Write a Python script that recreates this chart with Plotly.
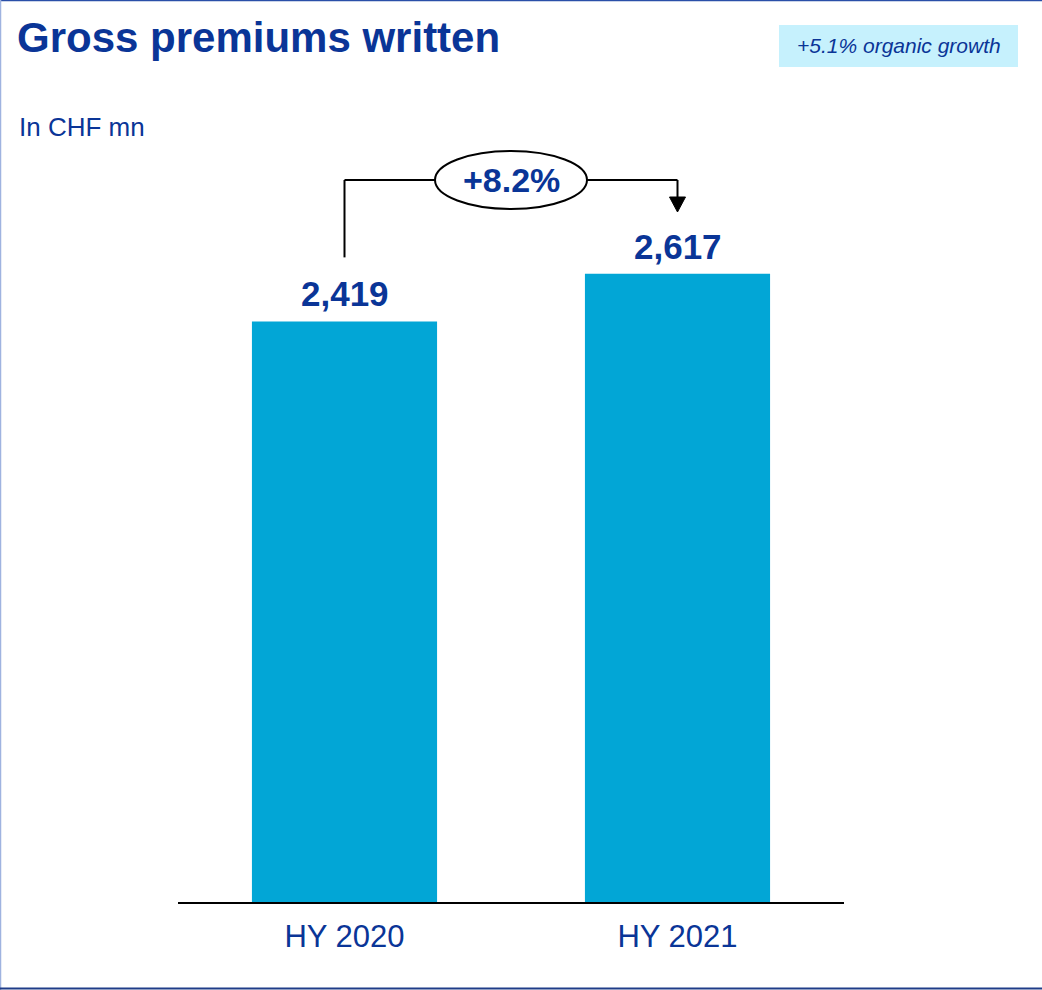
import plotly.graph_objects as go

# Data
categories = ["HY 2020", "HY 2021"]
premiums = [2419, 2617]
growth_label = "+8.2%"
organic_label = "+5.1% organic growth"
title_text = "Gross premiums written"
unit_text = "In CHF mn"

W, H = 1042, 990
BLUE_TEXT = "#0a3597"
BAR = "#02a6d6"
FONT = "Liberation Sans, Arial, sans-serif"

# plot area in pixels
px_left, px_right, px_top, px_bottom = 178, 844, 150, 902
y_max = 3133


def px2paper_x(px):
    return px / W


def px2paper_y(py):
    return 1 - py / H


fig = go.Figure()
fig.add_trace(go.Bar(
    x=[0, 1], y=premiums, marker=dict(color=BAR, line=dict(width=0)),
    width=0.556, hoverinfo="skip",
))

shapes = []
annotations = []

# value labels above the bars
for i, v in enumerate(premiums):
    annotations.append(dict(
        x=i, y=v, xref="x", yref="y", text=f"<b>{v:,}</b>",
        showarrow=False, yanchor="bottom", yshift=6,
        font=dict(size=35, color=BLUE_TEXT, family=FONT),
    ))

# growth bracket from first to second bar
k = (px_bottom - px_top) / y_max  # px per unit
top_y = (px_bottom - 180) / k
start_y = premiums[0] + 64 / k
line = dict(color="black", width=2)
shapes.append(dict(type="line", xref="x", yref="y", x0=0, x1=0, y0=start_y, y1=top_y, line=line))
shapes.append(dict(type="line", xref="x", yref="y", x0=0, x1=1, y0=top_y, y1=top_y, line=line))
tri_top = top_y - 17 / k
tip = top_y - 32 / k
shapes.append(dict(type="line", xref="x", yref="y", x0=1, x1=1, y0=top_y, y1=tri_top, line=line))
dx = 8 / 333
shapes.append(dict(type="path", xref="x", yref="y",
                   path=f"M {1-dx},{tri_top} L {1+dx},{tri_top} L 1,{tip} Z",
                   fillcolor="black", line=dict(color="black", width=1)))
ex = 76 / 333
ey = 29 / k
shapes.append(dict(type="circle", xref="x", yref="y", x0=0.5 - ex, x1=0.5 + ex,
                   y0=top_y - ey, y1=top_y + ey, fillcolor="white", line=line))
annotations.append(dict(
    x=0.5, y=top_y, xref="x", yref="y", text=f"<b>{growth_label}</b>",
    showarrow=False, yanchor="middle", xanchor="center",
    font=dict(size=34, color=BLUE_TEXT, family=FONT),
))

# title, unit, organic growth box
annotations.append(dict(
    x=px2paper_x(15), y=px2paper_y(37), xref="paper", yref="paper",
    text=f"<b>{title_text}</b>", showarrow=False, xanchor="left", yanchor="middle",
    font=dict(size=42, color=BLUE_TEXT, family=FONT),
))
annotations.append(dict(
    x=px2paper_x(17), y=px2paper_y(127), xref="paper", yref="paper",
    text=unit_text, showarrow=False, xanchor="left", yanchor="middle",
    font=dict(size=26, color=BLUE_TEXT, family=FONT),
))
shapes.append(dict(type="rect", xref="paper", yref="paper",
                   x0=px2paper_x(779), x1=px2paper_x(1018),
                   y0=px2paper_y(67), y1=px2paper_y(25),
                   fillcolor="#c6f1fd", line=dict(width=0), layer="below"))
annotations.append(dict(
    x=px2paper_x(898.5), y=px2paper_y(46), xref="paper", yref="paper",
    text=f"<i>{organic_label}</i>", showarrow=False, xanchor="center", yanchor="middle",
    font=dict(size=21, color=BLUE_TEXT, family=FONT),
))

# frame lines
shapes.append(dict(type="line", xref="paper", yref="paper", x0=0, x1=1,
                   y0=px2paper_y(0.5), y1=px2paper_y(0.5), line=dict(color="#2a4fa8", width=1.5)))
shapes.append(dict(type="line", xref="paper", yref="paper", x0=px2paper_x(0.5), x1=px2paper_x(0.5),
                   y0=0, y1=1, line=dict(color="#9fb3e0", width=1.5)))
shapes.append(dict(type="line", xref="paper", yref="paper", x0=0, x1=1,
                   y0=px2paper_y(988.5), y1=px2paper_y(988.5), line=dict(color="#1f3c88", width=2)))

fig.update_layout(
    width=W, height=H,
    margin=dict(l=0, r=0, t=0, b=0),
    paper_bgcolor="white", plot_bgcolor="white",
    showlegend=False,
    shapes=shapes, annotations=annotations,
    xaxis=dict(
        domain=[px_left / W, px_right / W], range=[-0.5, 1.5],
        tickmode="array", tickvals=[0, 1], ticktext=categories,
        showgrid=False, zeroline=False, showline=True, linecolor="black", linewidth=2,
        ticks="", ticklabelstandoff=6,
        tickfont=dict(size=31, color=BLUE_TEXT, family=FONT),
    ),
    yaxis=dict(
        domain=[1 - px_bottom / H, 1 - px_top / H], range=[0, y_max],
        visible=False, showgrid=False, zeroline=False,
    ),
)

fig.write_html("out.html")
